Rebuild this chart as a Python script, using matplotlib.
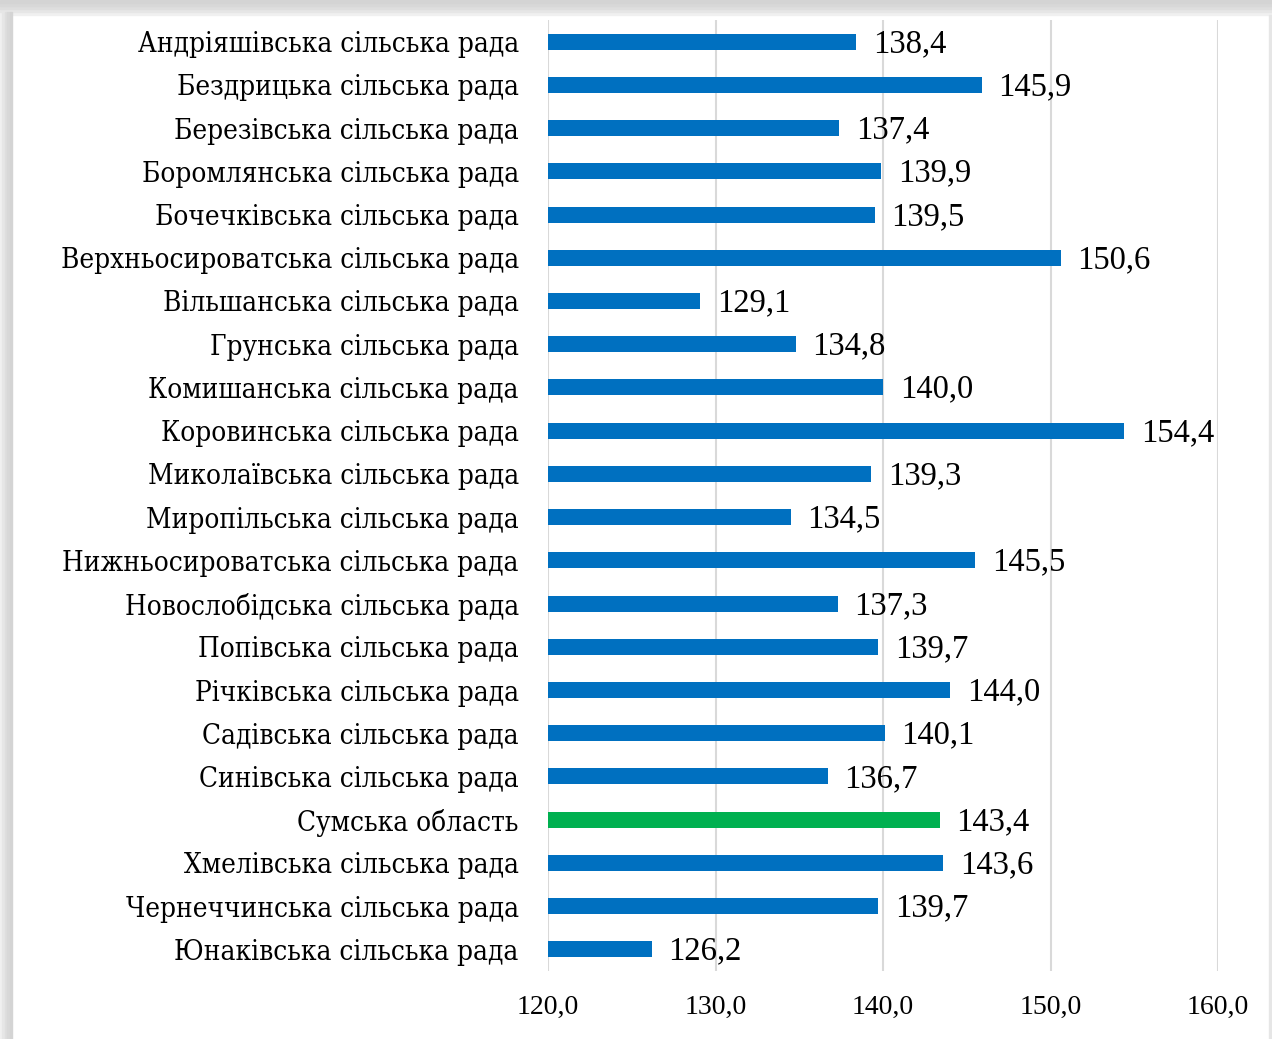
import matplotlib
matplotlib.use("Agg")
import matplotlib.pyplot as plt
from matplotlib.patches import Rectangle

names = [
    "Андріяшівська сільська рада",
    "Бездрицька сільська рада",
    "Березівська сільська рада",
    "Боромлянська сільська рада",
    "Бочечківська сільська рада",
    "Верхньосироватська сільська рада",
    "Вільшанська сільська рада",
    "Грунська сільська рада",
    "Комишанська сільська рада",
    "Коровинська сільська рада",
    "Миколаївська сільська рада",
    "Миропільська сільська рада",
    "Нижньосироватська сільська рада",
    "Новослобідська сільська рада",
    "Попівська сільська рада",
    "Річківська сільська рада",
    "Садівська сільська рада",
    "Синівська сільська рада",
    "Сумська область",
    "Хмелівська сільська рада",
    "Чернеччинська сільська рада",
    "Юнаківська сільська рада",
]
values = [138.4, 145.9, 137.4, 139.9, 139.5, 150.6, 129.1, 134.8, 140.0, 154.4,
          139.3, 134.5, 145.5, 137.3, 139.7, 144.0, 140.1, 136.7, 143.4, 143.6,
          139.7, 126.2]
highlight = "Сумська область"
xticks = [120, 130, 140, 150, 160]

W, H = 1272, 1039
fig = plt.figure(figsize=(W / 100, H / 100), dpi=100)
fig.patch.set_facecolor("white")

# gray frame / shadow around the chart area
for i, c in enumerate(["#f0f0f0", "#e6e6e6", "#dedede", "#d8d8d8", "#d4d4d4"]):
    fig.patches.append(Rectangle((0, 1 - (15 - i * 3) / H), 1, 3 / H,
                                 transform=fig.transFigure, color=c, zorder=0))
    fig.patches.append(Rectangle((i * 2.4 / W, 0), 2.4 / W, 1 - 15 / H + 3 / H,
                                 transform=fig.transFigure, color=c, zorder=0))
fig.patches.append(Rectangle((1 - 3 / W, 0), 3 / W, 1 - 15 / H,
                             transform=fig.transFigure, color="#e6e6e6", zorder=0))

ax = fig.add_axes([548 / W, 1 - 971 / H, 670 / W, 951 / H])
ax.set_facecolor("none")

ypos = list(range(len(names)))
colors = ["#00B050" if n == highlight else "#0070C0" for n in names]
ax.barh(ypos, values, height=0.37, color=colors, zorder=3)

for y, v in zip(ypos, values):
    ax.annotate(f"{v:.1f}".replace(".", ","), (v, y), xytext=(12, -1.5),
                textcoords="offset points", va="center", ha="left",
                fontsize=23.5, family="Liberation Serif", color="black")

ax.set_xlim(120, 160)
ax.set_ylim(len(names) - 0.5, -0.5)
ax.set_xticks(xticks)
ax.set_xticklabels([f"{t:.1f}".replace(".", ",") for t in xticks],
                   family="Liberation Serif", fontsize=20)
ax.set_yticks(ypos)
ax.set_yticklabels(names, family="DejaVu Serif", fontstretch="condensed",
                   fontsize=20)
ax.tick_params(axis="y", length=0, pad=21)
ax.tick_params(axis="x", length=0, pad=17)
ax.grid(axis="x", color="#d9d9d9", linewidth=1.5, zorder=0)
for s in ax.spines.values():
    s.set_visible(False)

fig.savefig("out.png", dpi=100)
